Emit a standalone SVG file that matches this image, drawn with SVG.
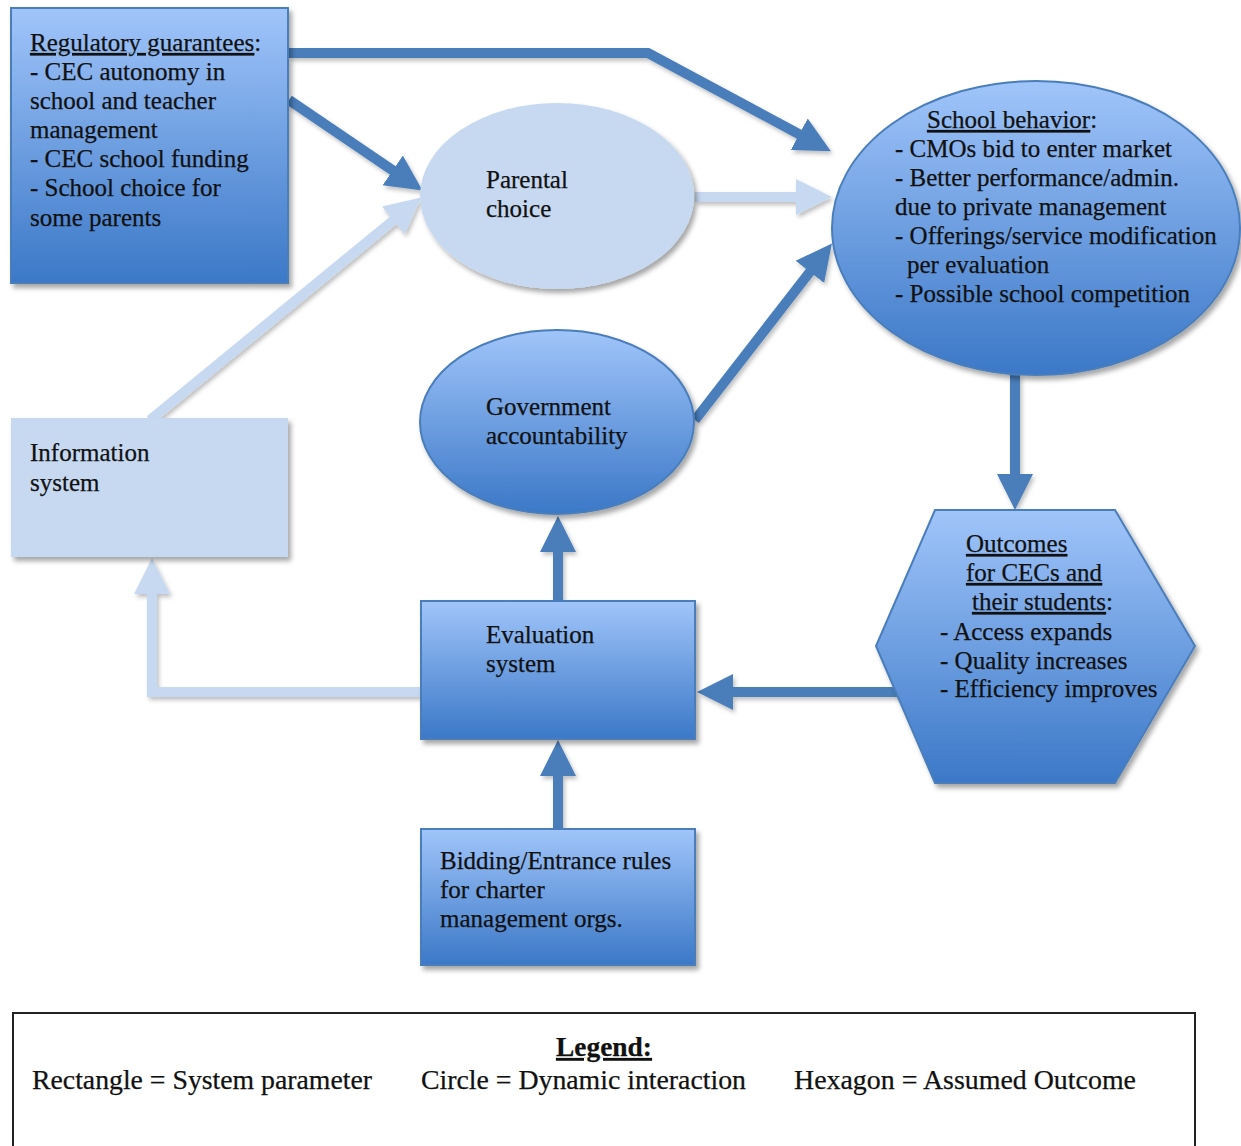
<svg xmlns="http://www.w3.org/2000/svg" width="1241" height="1146" viewBox="0 0 1241 1146">
<defs>
<linearGradient id="blueGrad" x1="0" y1="0" x2="0" y2="1">
<stop offset="0" stop-color="#a0c5fa"/>
<stop offset="1" stop-color="#3b78c7"/>
</linearGradient>
<filter id="shadow" x="-10%" y="-10%" width="125%" height="125%">
<feDropShadow dx="3" dy="4" stdDeviation="2.5" flood-color="#000" flood-opacity="0.35"/>
</filter>
<filter id="lshadow" x="-10%" y="-10%" width="125%" height="125%">
<feDropShadow dx="2" dy="3" stdDeviation="2" flood-color="#000" flood-opacity="0.25"/>
</filter>
<marker id="arrDark" markerUnits="userSpaceOnUse" markerWidth="40" markerHeight="40" viewBox="0 -20 40 40" refX="10" refY="0" orient="auto">
<path d="M0,-18 L36,0 L0,18 Z" fill="#4a7ebb"/>
</marker>
<marker id="arrLight" markerUnits="userSpaceOnUse" markerWidth="40" markerHeight="40" viewBox="0 -20 40 40" refX="10" refY="0" orient="auto">
<path d="M0,-18 L36,0 L0,18 Z" fill="#c6d9f1"/>
</marker>
</defs>
<style>
text { font-family: "Liberation Serif", "Times New Roman", serif; font-size: 25px; fill: #111; stroke: #111; stroke-width: 0.25; }
.dark { fill: url(#blueGrad); stroke: #4a7ebb; stroke-width: 2; }
.light { fill: #c6d9f1; stroke: none; }
.cd { fill: none; stroke: #4a7ebb; stroke-width: 10; marker-end: url(#arrDark); }
.cl { fill: none; stroke: #c6d9f1; stroke-width: 10; marker-end: url(#arrLight); }
.u { text-decoration: underline; }
.legend { fill: #fff; stroke: #222; stroke-width: 2; }
.lg { font-size: 27px; }
</style>
<rect width="1241" height="1146" fill="#fff"/>

<g id="connectors" filter="url(#lshadow)">
<!-- Regulatory -> School behavior -->
<path class="cd" d="M289,53 L648,53 L808,139"/>
<!-- Regulatory -> Parental choice -->
<path class="cd" d="M289,100 L401,176"/>
<!-- Information -> Parental choice -->
<path class="cl" d="M150,420 L401,214"/>
<!-- Parental -> School behavior -->
<path class="cl" d="M695,197 L806,197"/>
<!-- Government -> School behavior -->
<path class="cd" d="M695,420 L816,264"/>
<!-- School behavior -> Outcomes -->
<path class="cd" d="M1015,375 L1015,484"/>
<!-- Outcomes -> Evaluation -->
<path class="cd" d="M905,692 L723,692"/>
<!-- Evaluation -> Government -->
<path class="cd" d="M558,601 L558,542"/>
<!-- Bidding -> Evaluation -->
<path class="cd" d="M558,829 L558,766"/>
<!-- Evaluation -> Information -->
<path class="cl" d="M421,692 L152,692 L152,584"/>
</g>

<g id="regulatory">
<rect class="dark" x="11" y="8" width="277" height="275" filter="url(#shadow)"/>
<text x="30" y="51"><tspan class="u">Regulatory guarantees</tspan>:</text>
<text x="30" y="80">- CEC autonomy in</text>
<text x="30" y="109">school and teacher</text>
<text x="30" y="138">management</text>
<text x="30" y="167">- CEC school funding</text>
<text x="30" y="196">- School choice for</text>
<text x="30" y="226">some parents</text>
</g>

<g id="parental">
<ellipse class="light" cx="557" cy="196" rx="137" ry="93" filter="url(#shadow)"/>
<text x="486" y="188">Parental</text>
<text x="486" y="217">choice</text>
</g>

<g id="school">
<ellipse class="dark" cx="1036" cy="228" rx="204" ry="147" filter="url(#shadow)"/>
<text x="927" y="128"><tspan class="u">School behavior</tspan>:</text>
<text x="895" y="157">- CMOs bid to enter market</text>
<text x="895" y="186">- Better performance/admin.</text>
<text x="895" y="215">due to private management</text>
<text x="895" y="244">- Offerings/service modification</text>
<text x="907" y="273">per evaluation</text>
<text x="895" y="302">- Possible school competition</text>
</g>

<g id="government">
<ellipse class="dark" cx="557" cy="422" rx="137" ry="92" filter="url(#shadow)"/>
<text x="486" y="415">Government</text>
<text x="486" y="444">accountability</text>
</g>

<g id="information">
<rect class="light" x="11" y="418" width="277" height="139" filter="url(#shadow)"/>
<text x="30" y="461">Information</text>
<text x="30" y="491">system</text>
</g>

<g id="evaluation">
<rect class="dark" x="421" y="601" width="274" height="138" filter="url(#shadow)"/>
<text x="486" y="643">Evaluation</text>
<text x="486" y="672">system</text>
</g>

<g id="outcomes">
<polygon class="dark" points="935,510 1115,510 1195,646 1115,783 935,783 876,646" filter="url(#shadow)"/>
<text x="966" y="552"><tspan class="u">Outcomes</tspan></text>
<text x="966" y="581"><tspan class="u">for CECs and</tspan></text>
<text x="972" y="610"><tspan class="u">their students</tspan>:</text>
<text x="940" y="640">- Access expands</text>
<text x="940" y="669">- Quality increases</text>
<text x="940" y="697">- Efficiency improves</text>
</g>

<g id="bidding">
<rect class="dark" x="421" y="829" width="274" height="136" filter="url(#shadow)"/>
<text x="440" y="869">Bidding/Entrance rules</text>
<text x="440" y="898">for charter</text>
<text x="440" y="927">management orgs.</text>
</g>

<g id="legend">
<rect class="legend" x="13" y="1013" width="1182" height="140"/>
<text class="lg" x="604" y="1056" text-anchor="middle" font-weight="bold" textLength="96" lengthAdjust="spacingAndGlyphs"><tspan class="u">Legend:</tspan></text>
<text class="lg" x="32" y="1089" textLength="340" lengthAdjust="spacingAndGlyphs">Rectangle = System parameter</text>
<text class="lg" x="421" y="1089" textLength="325" lengthAdjust="spacingAndGlyphs">Circle = Dynamic interaction</text>
<text class="lg" x="794" y="1089" textLength="342" lengthAdjust="spacingAndGlyphs">Hexagon = Assumed Outcome</text>
</g>
</svg>
